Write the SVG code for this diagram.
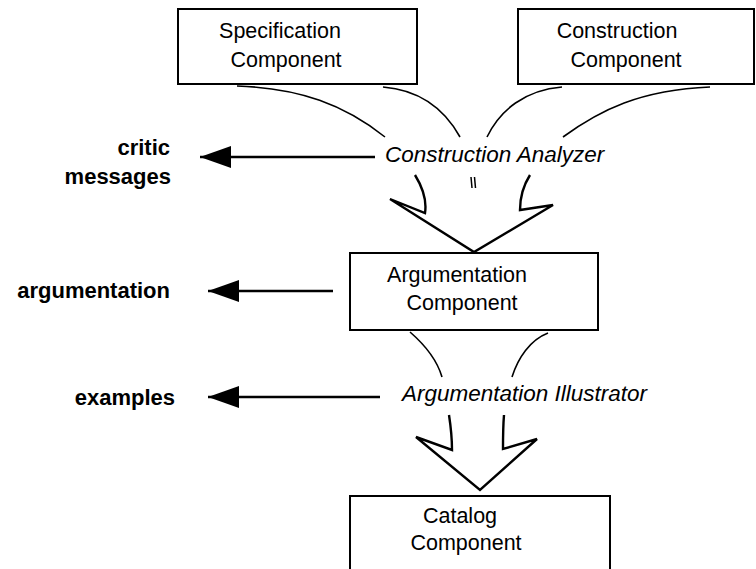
<svg xmlns="http://www.w3.org/2000/svg" width="756" height="569" viewBox="0 0 756 569">
<style>
.box{fill:#fff;stroke:#000;stroke-width:2}
.t{font-family:"Liberation Sans",Arial,sans-serif;font-size:21.5px;fill:#000}
.it{font-family:"Liberation Sans",Arial,sans-serif;font-size:22.5px;font-style:italic;fill:#000}
.lb{font-family:"Liberation Sans",Arial,sans-serif;font-size:22px;font-weight:bold;fill:#000}
.c{fill:none;stroke:#000;stroke-width:1.6}
.a{fill:none;stroke:#000;stroke-width:2.4;stroke-linejoin:miter}
.ln{fill:none;stroke:#000;stroke-width:2.5}
</style>
<defs>
<marker id="ah" viewBox="0 -11 31 22" refX="31" refY="0" markerWidth="31" markerHeight="22" markerUnits="userSpaceOnUse" orient="auto">
<path d="M0,-11 L31,0 L0,11 Z" fill="#000"/>
</marker>
</defs>
<rect width="756" height="569" fill="#fff"/>
<g id="spec">
<rect class="box" x="178" y="9" width="239" height="75"/>
<text class="t" x="280" y="38" text-anchor="middle">Specification</text>
<text class="t" x="286" y="67" text-anchor="middle">Component</text>
</g>
<g id="constr">
<rect class="box" x="518" y="9" width="236" height="75"/>
<text class="t" x="617" y="38" text-anchor="middle">Construction</text>
<text class="t" x="626" y="67" text-anchor="middle">Component</text>
</g>
<g id="analyzer">
<text class="it" x="385" y="162">Construction Analyzer</text>
</g>
<g id="argcomp">
<rect class="box" x="350" y="253" width="248" height="77"/>
<text class="t" x="457" y="282" text-anchor="middle">Argumentation</text>
<text class="t" x="462" y="310" text-anchor="middle">Component</text>
</g>
<g id="illustrator">
<text class="it" x="402" y="401">Argumentation Illustrator</text>
</g>
<g id="catalog">
<rect class="box" x="350" y="496" width="260" height="90"/>
<text class="t" x="460" y="523" text-anchor="middle">Catalog</text>
<text class="t" x="466" y="550" text-anchor="middle">Component</text>
</g>
<g id="critic">
<text class="lb" x="170" y="155" text-anchor="end">critic</text>
<text class="lb" x="171" y="184" text-anchor="end">messages</text>
</g>
<g id="argumentation">
<text class="lb" x="170" y="298" text-anchor="end">argumentation</text>
</g>
<g id="examples">
<text class="lb" x="175" y="405" text-anchor="end">examples</text>
</g>
<g id="connectors">
<path class="c" d="M237,86 C300,88 345,105 385,137"/>
<path class="c" d="M383,87 C420,90 445,110 460,137"/>
<path class="c" d="M562,87 C525,90 500,110 487,137"/>
<path class="c" d="M710,87 C640,90 600,110 563,137"/>
<path class="a" d="M415,175 C423,188 427,200 425,213 L390,199 L474,252 L553,205 L520,210 C520,197 523,186 530,175"/>
<path d="M471,177 L472,188 M474.5,177 L475.5,188" stroke="#000" stroke-width="1.5"/>
<path class="c" d="M410,332 C425,345 437,360 442,377"/>
<path class="c" d="M548,333 C530,340 518,358 512,377"/>
<path class="a" d="M449,415 C451,428 452,440 452,450 L416,437 L480,490 L537,439 L503,449 C503,438 503,427 504,415"/>
<line class="ln" x1="375" y1="157" x2="200" y2="157" marker-end="url(#ah)"/>
<line class="ln" x1="333" y1="291" x2="208" y2="291" marker-end="url(#ah)"/>
<line class="ln" x1="380" y1="397" x2="208" y2="397" marker-end="url(#ah)"/>
</g>
</svg>
